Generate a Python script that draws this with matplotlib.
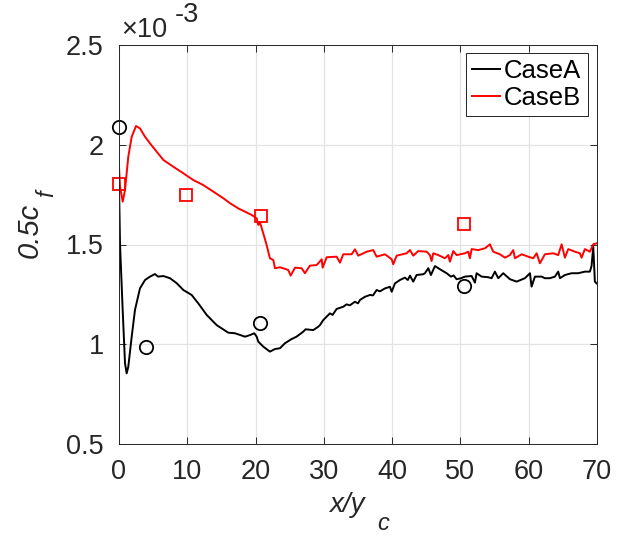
import matplotlib.pyplot as plt
import numpy as np

plt.rcParams['font.family'] = ['Liberation Sans', 'DejaVu Sans']

# CaseA (black) skin friction, units of 1e-3
xa = [0.0, 0.15, 0.54, 0.88, 1.12, 1.36, 1.86, 2.34, 3.07, 3.81, 4.54, 5.27, 5.5, 5.75,
      6.49, 7.47, 8.45, 9.42, 10.64, 11.61, 12.84, 14.3, 16.0, 17.0, 18.45, 19.18, 19.81,
      20.16, 20.4, 21.13, 22.1, 22.84, 23.57, 24.3, 25.28, 26.0, 26.98, 27.33, 28.45, 29.18,
      29.43, 29.91, 30.4, 30.89, 31.28, 31.87, 32.84, 33.33, 33.8, 34.55, 35.0, 35.29, 36.02,
      36.75, 37.2, 37.73, 38.2, 38.95, 39.68, 39.93, 40.41, 41.14, 41.87, 42.3, 42.61, 43.09,
      43.58, 44.56, 44.8, 45.29, 45.68, 46.27, 47.0, 47.98, 48.61, 49.0, 49.44, 50.0, 50.66,
      51.64, 52.12, 52.37, 53.1, 54.07, 54.56, 55.05, 55.54, 56.27, 57.25, 58.23, 59.44,
      60.18, 60.42, 60.91, 61.89, 62.37, 63.1, 63.84, 64.32, 64.57, 65.3, 66.28, 67.25,
      68.23, 68.96, 69.2, 69.45, 69.69, 69.94]
ya = [1.80, 1.50, 1.17, 0.905, 0.854, 0.887, 1.038, 1.172, 1.28, 1.322, 1.339, 1.352, 1.345, 1.339,
      1.342, 1.331, 1.306, 1.272, 1.247, 1.205, 1.147, 1.096, 1.058, 1.055, 1.038, 1.046, 1.055,
      1.038, 1.013, 0.988, 0.963, 0.976, 0.98, 1.005, 1.026, 1.038, 1.063, 1.075, 1.071, 1.088,
      1.096, 1.121, 1.138, 1.155, 1.147, 1.177, 1.188, 1.20, 1.195, 1.213, 1.205, 1.222, 1.238,
      1.247, 1.245, 1.272, 1.265, 1.28, 1.288, 1.263, 1.305, 1.322, 1.334, 1.322, 1.344, 1.314,
      1.347, 1.351, 1.356, 1.381, 1.347, 1.392, 1.376, 1.356, 1.339, 1.345, 1.326, 1.33, 1.339,
      1.342, 1.309, 1.356, 1.339, 1.336, 1.331, 1.364, 1.331, 1.356, 1.326, 1.314, 1.331,
      1.356, 1.289, 1.339, 1.339, 1.331, 1.331, 1.339, 1.364, 1.331, 1.347, 1.356, 1.356,
      1.364, 1.364, 1.392, 1.489, 1.314, 1.305]

# CaseB (red)
xb = [0.0, 0.15, 0.54, 0.88, 1.36, 1.86, 2.49, 3.07, 3.81, 4.54, 5.52, 6.49, 7.95, 9.42,
      10.88, 12.34, 13.81, 15.27, 16.25, 17.47, 19.43, 20.16, 20.4, 20.65, 21.13, 21.62,
      22.1, 22.6, 22.84, 23.57, 24.3, 24.79, 25.14, 25.77, 26.75, 27.23, 27.96, 28.95,
      29.68, 29.82, 30.41, 31.87, 32.36, 32.84, 34.07, 34.55, 35.04, 36.27, 37.23, 37.73,
      38.95, 39.93, 40.16, 40.66, 42.12, 42.61, 43.09, 43.82, 45.05, 45.53, 45.78, 46.02,
      46.75, 47.73, 48.22, 48.46, 48.95, 49.44, 50.66, 51.14, 51.39, 51.64, 52.61, 53.59,
      54.32, 54.8, 55.78, 56.52, 57.25, 57.73, 57.98, 58.96, 59.93, 60.66, 61.16, 61.64,
      62.37, 63.59, 64.32, 64.82, 65.3, 65.79, 66.76, 67.5, 67.74, 68.23, 68.96, 69.45, 69.94]
yb = [1.89, 1.79, 1.715, 1.773, 1.94, 2.04, 2.094, 2.082, 2.04, 2.007, 1.965, 1.924, 1.89, 1.857,
      1.823, 1.798, 1.765, 1.732, 1.707, 1.681, 1.648, 1.631, 1.598, 1.61, 1.556, 1.497,
      1.431, 1.422, 1.381, 1.386, 1.378, 1.372, 1.344, 1.384, 1.381, 1.356, 1.394, 1.397,
      1.426, 1.384, 1.436, 1.439, 1.409, 1.451, 1.451, 1.476, 1.444, 1.464, 1.472, 1.439,
      1.451, 1.426, 1.401, 1.444, 1.456, 1.472, 1.444, 1.467, 1.464, 1.447, 1.417, 1.456,
      1.447, 1.431, 1.447, 1.414, 1.467, 1.447, 1.456, 1.464, 1.431, 1.477, 1.472, 1.481,
      1.501, 1.464, 1.451, 1.434, 1.447, 1.472, 1.431, 1.451, 1.439, 1.431, 1.456, 1.406,
      1.451, 1.456, 1.447, 1.501, 1.434, 1.477, 1.464, 1.456, 1.434, 1.477, 1.464, 1.501, 1.506]

# reference points
xa_ref = [0.0, 3.95, 20.64, 50.56]
ya_ref = [2.09, 0.985, 1.108, 1.292]
xb_ref = [0.0, 9.81, 20.79, 50.5]
yb_ref = [1.803, 1.748, 1.644, 1.603]

xticks = np.arange(0, 71, 10)
yticks = [0.5, 1, 1.5, 2, 2.5]
ytick_labels = ['0.5', '1', '1.5', '2', '2.5']

fig = plt.figure(figsize=(6.21, 5.38), dpi=100)
ax = fig.add_axes([119 / 621, 1 - 444 / 538, 478 / 621, 399 / 538])

ax.plot(xa, ya, 'k-', lw=1.4, label='CaseA')
ax.plot(xb, yb, 'r-', lw=1.4, label='CaseB')
ax.plot(xa_ref, ya_ref, 'o', ms=9.6, mfc='none', mec='k', mew=1.3, clip_on=False)
ax.plot(xb_ref, yb_ref, 's', ms=8.4, mfc='none', mec='r', mew=1.3, clip_on=False)

ax.set_xlim(0, 70)
ax.set_ylim(0.5, 2.5)
ax.set_xticks(xticks)
ax.set_yticks(yticks)
ax.set_yticklabels(ytick_labels)
ax.grid(True, color='#e3e3e3', lw=0.9)
ax.set_axisbelow(True)
ax.tick_params(direction='in', length=5, width=0.7, colors='#262626', labelsize=19.5,
               top=True, right=True)
ax.tick_params(axis='x', pad=11)
ax.tick_params(axis='y', pad=11)
for s in ax.spines.values():
    s.set_color('#262626')
    s.set_linewidth(0.7)

leg = ax.legend(loc='upper right', bbox_to_anchor=(0.981, 0.980), borderaxespad=0,
                fontsize=18.5, handlelength=1.1, handletextpad=0.15, borderpad=0.25,
                labelspacing=0.1, fancybox=False, edgecolor='k', framealpha=1)
leg.get_frame().set_linewidth(0.6)

# exponent
fig.text(121 / 621, 1 - 37 / 538, '\u00d710', fontsize=19.5, color='#262626', va='baseline')
fig.text(175 / 621, 1 - 22 / 538, '-3', fontsize=19.5, color='#262626', va='baseline')

# axis labels
fig.text(38 / 621, 1 - 230.5 / 538, '0.5c', fontsize=21, style='italic', color='#262626',
         rotation=90, rotation_mode='anchor', ha='center', va='baseline')
fig.text(53 / 621, 1 - 193.5 / 538, 'f', fontsize=17, style='italic', color='#262626',
         rotation=90, rotation_mode='anchor', ha='center', va='baseline')
fig.text(346.5 / 621, 1 - 512 / 538, 'x/y', fontsize=20, style='italic', color='#262626',
         ha='center', va='baseline')
fig.text(383 / 621, 1 - 530 / 538, 'c', fontsize=17, style='italic', color='#262626',
         ha='center', va='baseline')

fig.savefig('out.png', dpi=100)
